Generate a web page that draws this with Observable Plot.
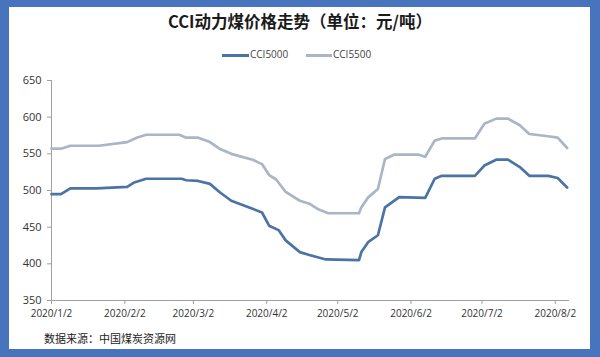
<!DOCTYPE html>
<html>
<head>
<meta charset="utf-8">
<script src="https://cdn.jsdelivr.net/npm/d3@7"></script>
<script src="https://cdn.jsdelivr.net/npm/@observablehq/plot@0.6"></script>
<style>
  html, body { margin: 0; padding: 0; }
  body { width: 600px; height: 357px; background: #4874bd; position: relative; overflow: hidden;
         font-family: "Open Sans", "Noto Sans CJK SC", sans-serif; }
  #panel { position: absolute; left: 9px; top: 7px; width: 581px; height: 342px; background: #fff; }
  #title { position: absolute; left: 0; width: 600px; top: 9px; text-align: center;
           font-family: "Noto Sans CJK SC", sans-serif; font-weight: bold; font-size: 16.5px; color: #1a1a1a; }
  #legend { position: absolute; top: 47px; left: 0; width: 600px; font-size: 10px; color: #444;
            font-family: "Open Sans", sans-serif; }
  .sw { position: absolute; height: 3px; top: 7px; }
  .lt { position: absolute; top: 0; }
  #chart { position: absolute; left: 0; top: 70px; }
  #source { position: absolute; left: 44px; top: 330px; font-size: 11px; color: #222;
            font-family: "Noto Sans CJK SC", sans-serif; }
</style>
</head>
<body>
<div id="panel"></div>
<div id="title">CCI动力煤价格走势（单位：元/吨）</div>
<div id="legend"></div>
<div id="chart"></div>
<div id="source">数据来源：中国煤炭资源网</div>
<script>
const seriesNames = ["CCI5000", "CCI5500"];
const seriesColors = ["#4b73a3", "#aab5c6"];

const dates5000 = ["2020-01-02","2020-01-06","2020-01-10","2020-01-21","2020-02-03","2020-02-06","2020-02-11","2020-02-26","2020-02-28","2020-03-04","2020-03-09","2020-03-13","2020-03-18","2020-03-27","2020-03-31","2020-04-03","2020-04-07","2020-04-10","2020-04-16","2020-04-20","2020-04-27","2020-05-11","2020-05-12","2020-05-15","2020-05-19","2020-05-22","2020-05-28","2020-06-08","2020-06-12","2020-06-15","2020-06-29","2020-07-03","2020-07-08","2020-07-13","2020-07-18","2020-07-22","2020-07-30","2020-08-03","2020-08-07"];
const values5000 = [495,495,503,503,505,511,516,516,514,513,509,498,486,475,470,452,446,432,416,412,406,405,416,430,439,477,491,490,516,520,520,534,542,542,532,520,520,517,504];

const dates5500 = ["2020-01-02","2020-01-06","2020-01-10","2020-01-22","2020-02-03","2020-02-07","2020-02-11","2020-02-25","2020-02-28","2020-03-04","2020-03-09","2020-03-13","2020-03-18","2020-03-27","2020-03-31","2020-04-03","2020-04-06","2020-04-10","2020-04-16","2020-04-20","2020-04-24","2020-04-28","2020-05-11","2020-05-12","2020-05-15","2020-05-19","2020-05-22","2020-05-26","2020-06-05","2020-06-08","2020-06-12","2020-06-15","2020-06-29","2020-07-03","2020-07-08","2020-07-13","2020-07-18","2020-07-22","2020-07-30","2020-08-03","2020-08-07"];
const values5500 = [557,557,561,561,566,572,576,576,572,572,566,557,550,542,536,521,515,498,486,482,474,469,469,477,491,502,543,549,549,546,568,571,571,591,598,598,589,577,574,572,558];

const xTickDates = ["2020-01-02","2020-02-02","2020-03-02","2020-04-02","2020-05-02","2020-06-02","2020-07-02","2020-08-02"];
const xTickLabels = ["2020/1/2","2020/2/2","2020/3/2","2020/4/2","2020/5/2","2020/6/2","2020/7/2","2020/8/2"];
const yTicks = [350, 400, 450, 500, 550, 600, 650];

const parse = d3.utcParse("%Y-%m-%d");
const data = [
  ...dates5000.map((d, i) => ({date: parse(d), value: values5000[i], series: seriesNames[0]})),
  ...dates5500.map((d, i) => ({date: parse(d), value: values5500[i], series: seriesNames[1]}))
];
const tickDates = xTickDates.map(parse);
const labelOf = new Map(tickDates.map((d, i) => [+d, xTickLabels[i]]));

const chart = Plot.plot({
  width: 600,
  height: 255,
  marginLeft: 51,
  marginRight: 31,
  marginTop: 10,
  marginBottom: 25,
  style: {fontFamily: "Open Sans, sans-serif", fontSize: "10px", color: "#333", background: "transparent"},
  x: {type: "utc", domain: [parse("2020-01-02"), parse("2020-08-08")], label: null},
  y: {domain: [350, 650], label: null},
  color: {domain: seriesNames, range: seriesColors},
  marks: [
    Plot.ruleX([parse("2020-01-02")], {stroke: "#a0a0a0"}),
    Plot.ruleY([350], {stroke: "#a0a0a0"}),
    Plot.axisY({ticks: yTicks, tickSize: 4, tickPadding: 6, stroke: "#a0a0a0", fontSize: 11}),
    Plot.axisX({ticks: tickDates, tickFormat: d => labelOf.get(+d), tickSize: 4, tickPadding: 5, stroke: "#a0a0a0"}),
    Plot.line(data, {x: "date", y: "value", z: "series", stroke: "series", strokeWidth: 2.7, curve: "linear"})
  ]
});
chart.querySelectorAll("text").forEach(t => t.setAttribute("fill", "#333"));
document.getElementById("chart").appendChild(chart);

const legend = document.getElementById("legend");
const legendPos = [[222, 250], [306, 333]];
seriesNames.forEach((n, i) => {
  const sw = document.createElement("div");
  sw.className = "sw";
  sw.style.left = legendPos[i][0] + "px";
  sw.style.width = (legendPos[i][1] - legendPos[i][0] - 1) + "px";
  sw.style.background = seriesColors[i];
  legend.appendChild(sw);
  const t = document.createElement("div");
  t.className = "lt";
  t.style.left = legendPos[i][1] + "px";
  t.textContent = n;
  legend.appendChild(t);
});
</script>
</body>
</html>
